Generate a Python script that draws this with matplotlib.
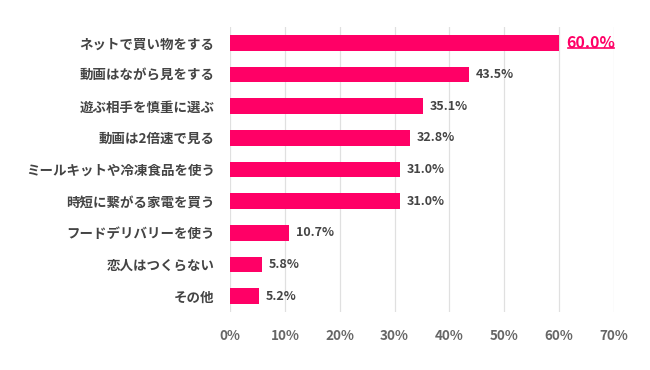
import matplotlib
matplotlib.use("Agg")
import matplotlib.pyplot as plt
from matplotlib.ticker import FuncFormatter

plt.rcParams['font.family'] = ['Noto Sans CJK JP', 'DejaVu Sans']

# Data
categories = [
    "ネットで買い物をする",
    "動画はながら見をする",
    "遊ぶ相手を慎重に選ぶ",
    "動画は2倍速で見る",
    "ミールキットや冷凍食品を使う",
    "時短に繋がる家電を買う",
    "フードデリバリーを使う",
    "恋人はつくらない",
    "その他",
]
values = [60.0, 43.5, 35.1, 32.8, 31.0, 31.0, 10.7, 5.8, 5.2]
x_ticks = [0, 10, 20, 30, 40, 50, 60, 70]

BAR_COLOR = "#FF0066"
TEXT_COLOR = "#444444"
TICK_COLOR = "#666666"

fig = plt.figure(figsize=(6.5, 3.7), dpi=100)
ax = fig.add_axes([230 / 650, 1 - 312 / 370, 384 / 650, 285 / 370])

y_pos = list(range(len(categories)))
ax.barh(y_pos, values, height=0.5, color=BAR_COLOR, zorder=3)

ax.set_xlim(0, 70)
ax.set_ylim(len(categories) - 0.5, -0.5)
ax.set_xticks(x_ticks)
ax.xaxis.set_major_formatter(FuncFormatter(lambda v, _: "{:.0f}%".format(v)))
ax.set_yticks(y_pos)
ax.set_yticklabels(categories)

ax.tick_params(axis="y", length=0, pad=11, labelsize=9.7, labelcolor=TEXT_COLOR)
ax.tick_params(axis="x", length=0, pad=12, labelsize=9.7, labelcolor=TICK_COLOR)
for lbl in ax.get_yticklabels() + ax.get_xticklabels():
    lbl.set_fontweight("bold")

ax.grid(axis="x", color="#e0e0e0", linewidth=0.9, zorder=0)
for spine in ax.spines.values():
    spine.set_visible(False)

# Value labels
top_label = None
for i, v in enumerate(values):
    if i == 0:
        top_label = ax.annotate("{:.1f}%".format(v), xy=(v, i), xytext=(5, 0),
                                textcoords="offset points", va="center", ha="left",
                                fontsize=11.5, fontweight="bold", color=BAR_COLOR)
    else:
        ax.annotate("{:.1f}%".format(v), xy=(v, i), xytext=(5, 0),
                    textcoords="offset points", va="center", ha="left",
                    fontsize=9, fontweight="bold", color=TEXT_COLOR)

# Underline for the top value
fig.canvas.draw()
bb = top_label.get_window_extent(renderer=fig.canvas.get_renderer())
inv = fig.transFigure.inverted()
(x0, y0), (x1, y1) = inv.transform([(bb.x0 + 2, bb.y0 + 3), (bb.x1 - 1, bb.y0 + 3)])
fig.add_artist(plt.Line2D([x0, x1], [y0, y1], color=BAR_COLOR, linewidth=1.2,
                          transform=fig.transFigure))

fig.savefig("out.png", dpi=100)
